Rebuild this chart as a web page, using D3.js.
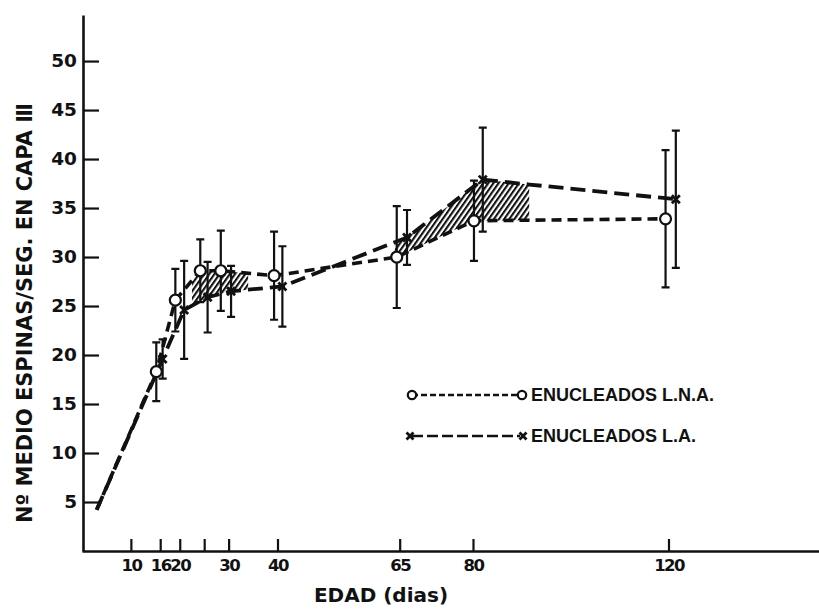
<!DOCTYPE html>
<html><head><meta charset="utf-8">
<script src="https://cdn.jsdelivr.net/npm/d3@7"></script>
<style>
html,body{margin:0;padding:0;background:#fff;}
svg{display:block;}
</style></head><body>
<svg id="chart" width="819" height="610"></svg>
<script>
// Age (days) and mean spine count per segment (± error) for each group
const lnaDays   = [15.2, 19.1, 24.2, 28.4, 39.3, 64.4, 80.2, 119.4];
const lnaMeans  = [18.3, 25.6, 28.6, 28.6, 28.1, 30.0, 33.7, 33.9];
const lnaErrors = [3.0, 3.2, 3.2, 4.1, 4.5, 5.2, 4.1, 7.0];

const laDays   = [16.5, 20.9, 25.7, 30.5, 41.0, 66.5, 82.0, 121.5];
const laMeans  = [19.6, 24.6, 25.9, 26.5, 27.0, 32.0, 37.9, 35.9];
const laErrors = [2.0, 5.0, 3.6, 2.6, 4.1, 2.8, 5.3, 7.0];

// Both curves start from a common early value
const startDay = [3];
const startValue = [4.2];
// Extra vertex on the L.A. curve where the second shaded band ends
const laBendDay = [91.5];
const laBendValue = [37.4];

// Age ranges where the gap between the two curves is hatched
const shadedFrom = [22.5, 64];
const shadedTo   = [34, 91.5];

const xTickValues = [10, 16, 20, 25, 30, 40, 65, 80, 120];
const xTickLabels = ["10", "16", "20", "", "30", "40", "65", "80", "120"];
const yTickValues = [5, 10, 15, 20, 25, 30, 35, 40, 45, 50];

const seriesNames = ["ENUCLEADOS L.N.A.", "ENUCLEADOS L.A."];

const INK = "#111";
const FONT = "'DejaVu Sans', 'Liberation Sans', sans-serif";

const svg = d3.select("#chart");

const x = d3.scaleLinear().domain([0, 151]).range([82, 820]);
const y = d3.scaleLinear().domain([0, 54.7]).range([551, 15]);

// Build point lists
const lnaPts = lnaDays.map((d, i) => ({ day: d, value: lnaMeans[i], err: lnaErrors[i] }));
const laPts  = laDays.map((d, i) => ({ day: d, value: laMeans[i], err: laErrors[i] }));
const start = { day: startDay[0], value: startValue[0] };

const lnaPath = [start, ...lnaPts];
const laPath  = [start, ...laPts, { day: laBendDay[0], value: laBendValue[0] }]
  .sort((a, b) => a.day - b.day);

function valueAt(path, d) {
  for (let i = 0; i < path.length - 1; i++) {
    const a = path[i], b = path[i + 1];
    if (d >= a.day && d <= b.day) {
      const t = (d - a.day) / (b.day - a.day);
      return a.value + t * (b.value - a.value);
    }
  }
  return path[path.length - 1].value;
}

// Hatch pattern
const defs = svg.append("defs");
const pat = defs.append("pattern")
  .attr("id", "hatch")
  .attr("patternUnits", "userSpaceOnUse")
  .attr("width", 4.2).attr("height", 10)
  .attr("patternTransform", "rotate(35)");
pat.append("line")
  .attr("x1", 1).attr("y1", 0).attr("x2", 1).attr("y2", 10)
  .attr("stroke", INK).attr("stroke-width", 2.2);

// Shaded bands between the curves
const bands = shadedFrom.map((f, i) => {
  const t = shadedTo[i];
  const days = Array.from(new Set([f, t,
    ...lnaPath.map(p => p.day), ...laPath.map(p => p.day)]))
    .filter(d => d >= f && d <= t).sort((a, b) => a - b);
  const upper = days.map(d => [x(d), y(valueAt(lnaPath, d))]);
  const lower = days.slice().reverse().map(d => [x(d), y(valueAt(laPath, d))]);
  return upper.concat(lower);
});
svg.append("g").selectAll("path").data(bands).join("path")
  .attr("d", d => "M" + d.join("L") + "Z")
  .attr("fill", "url(#hatch)");

// Axes
const xAxis = d3.axisBottom(x)
  .tickValues(xTickValues)
  .tickFormat((d, i) => xTickLabels[i])
  .tickSizeInner(-12).tickSizeOuter(0).tickPadding(8);
const gx = svg.append("g").attr("transform", "translate(0,551)").call(xAxis);
gx.select(".domain").attr("stroke", INK).attr("stroke-width", 2.6);
gx.selectAll(".tick line").attr("stroke", INK).attr("stroke-width", 2.2);
gx.selectAll(".tick text").attr("fill", INK)
  .style("font-family", FONT).style("font-weight", "bold")
  .style("font-size", "16.5px").style("letter-spacing", "-1.6px");

const yAxis = d3.axisLeft(y)
  .tickValues(yTickValues)
  .tickSizeInner(-16).tickSizeOuter(0).tickPadding(6);
const gy = svg.append("g").attr("transform", "translate(83,0)").call(yAxis);
gy.select(".domain").attr("stroke", INK).attr("stroke-width", 2.6);
gy.selectAll(".tick line").attr("stroke", INK).attr("stroke-width", 2.2);
gy.selectAll(".tick text").attr("fill", INK)
  .style("font-family", FONT).style("font-weight", "bold")
  .style("font-size", "18.5px");

// Curves
const line = d3.line().x(d => x(d.day)).y(d => y(d.value));
svg.append("path").datum(laPath)
  .attr("d", line).attr("fill", "none")
  .attr("stroke", INK).attr("stroke-width", 3.8)
  .attr("stroke-dasharray", "15 7");
svg.append("path").datum(lnaPath)
  .attr("d", line).attr("fill", "none")
  .attr("stroke", INK).attr("stroke-width", 3.6)
  .attr("stroke-dasharray", "10 6");

// Error bars
function errorBars(pts) {
  const g = svg.append("g").attr("stroke", INK).attr("stroke-width", 2.2);
  g.selectAll("path").data(pts).join("path")
    .attr("fill", "none")
    .attr("d", d => {
      const cx = x(d.day), t = y(d.value + d.err), b = y(d.value - d.err);
      return `M${cx},${t}V${b}M${cx - 4},${t}H${cx + 4}M${cx - 4},${b}H${cx + 4}`;
    });
}
errorBars(laPts);
errorBars(lnaPts);

// Markers
function xMark(sel, s) {
  sel.append("path")
    .attr("d", `M${-s},${-s}L${s},${s}M${-s},${s}L${s},${-s}`)
    .attr("stroke", INK).attr("stroke-width", 2.8).attr("fill", "none");
}
svg.append("g").selectAll("g").data(laPts).join("g")
  .attr("transform", d => `translate(${x(d.day)},${y(d.value)})`)
  .each(function () { xMark(d3.select(this), 4); });
svg.append("g").selectAll("circle").data(lnaPts).join("circle")
  .attr("cx", d => x(d.day)).attr("cy", d => y(d.value))
  .attr("r", 5.5).attr("fill", "#fff")
  .attr("stroke", INK).attr("stroke-width", 2.2);

// Legend
const legend = svg.append("g");
const rowY = [395, 436];
const lx0 = 412, lx1 = 520;
legend.append("line").attr("x1", lx0).attr("x2", lx1).attr("y1", rowY[0]).attr("y2", rowY[0])
  .attr("stroke", INK).attr("stroke-width", 2.6).attr("stroke-dasharray", "6 3");
legend.append("circle").attr("cx", lx0).attr("cy", rowY[0]).attr("r", 4.2)
  .attr("fill", "#fff").attr("stroke", INK).attr("stroke-width", 2.2);
legend.append("circle").attr("cx", lx1 + 2).attr("cy", rowY[0]).attr("r", 4.2)
  .attr("fill", "#fff").attr("stroke", INK).attr("stroke-width", 2.2);
legend.append("line").attr("x1", lx0).attr("x2", lx1).attr("y1", rowY[1]).attr("y2", rowY[1])
  .attr("stroke", INK).attr("stroke-width", 2.6).attr("stroke-dasharray", "11 4");
xMark(legend.append("g").attr("transform", `translate(${lx0 - 2},${rowY[1]})`), 3.5);
xMark(legend.append("g").attr("transform", `translate(${lx1 + 3},${rowY[1]})`), 3.5);
legend.selectAll("text").data(seriesNames).join("text")
  .attr("x", 531).attr("y", (d, i) => rowY[i]).attr("dy", "0.36em")
  .attr("fill", INK)
  .style("font-family", "'Liberation Sans', Arial, sans-serif")
  .style("font-weight", "bold").style("font-size", "18px")
  .text(d => d);

// Axis titles
svg.append("text")
  .attr("x", 381).attr("y", 602).attr("text-anchor", "middle")
  .attr("fill", INK)
  .style("font-family", FONT).style("font-weight", "bold").style("font-size", "20px")
  .text("EDAD (dias)");

svg.append("text")
  .attr("transform", "translate(32,313) rotate(-90)")
  .attr("text-anchor", "middle")
  .attr("fill", INK)
  .attr("textLength", 420).attr("lengthAdjust", "spacingAndGlyphs")
  .style("font-family", FONT).style("font-weight", "bold").style("font-size", "22px")
  .text("Nº MEDIO ESPINAS/SEG. EN CAPA Ⅲ");
</script>
</body></html>
